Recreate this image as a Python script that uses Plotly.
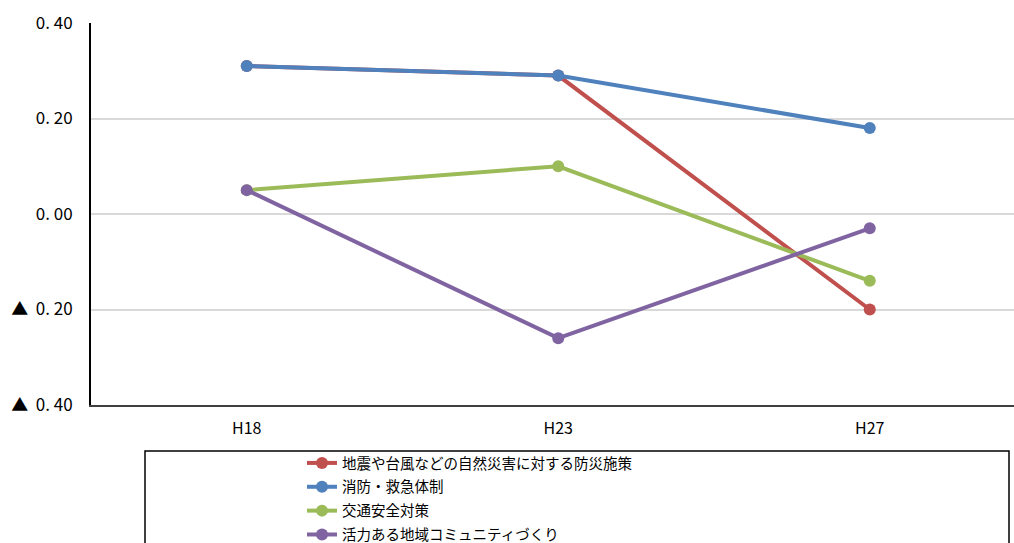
import plotly.graph_objects as go

categories = ["H18", "H23", "H27"]
series_names = [
    "地震や台風などの自然災害に対する防災施策",
    "消防・救急体制",
    "交通安全対策",
    "活力ある地域コミュニティづくり",
]
disaster = [0.31, 0.29, -0.20]
fire_emergency = [0.31, 0.29, 0.18]
traffic_safety = [0.05, 0.10, -0.14]
community = [0.05, -0.26, -0.03]
colors = ["#C0504D", "#4F81BD", "#9BBB59", "#8064A2"]
tick_vals = [0.4, 0.2, 0.0, -0.2, -0.4]
tick_text = ["0. 40", "0. 20", "0. 00", "▲  0. 20", "▲  0. 40"]

W, H = 1014, 543
L, R, T, B = 91, 0, 23, 138
pw, ph = W - L - R, H - T - B

def px_x(x):
    return (x - L) / pw

def px_y(y):
    return (H - B - y) / ph

fig = go.Figure()
for name, vals, c in zip(series_names, [disaster, fire_emergency, traffic_safety, community], colors):
    fig.add_trace(go.Scatter(
        x=list(range(len(categories))), y=vals, name=name, mode="lines+markers",
        line=dict(color=c, width=4), marker=dict(color=c, size=12),
        legendgroup=name,
    ))

font_jp = "Noto Sans CJK JP"
fig.update_layout(
    width=W, height=H,
    margin=dict(l=L, r=R, t=T, b=B, autoexpand=False),
    paper_bgcolor="white", plot_bgcolor="white",
    font=dict(family=font_jp, color="black", size=15),
    xaxis=dict(
        tickmode="array", tickvals=list(range(len(categories))), ticktext=categories,
        range=[-0.5, -0.5 + pw / 311.5], showgrid=False, zeroline=False,
        showline=True, linecolor="#404040", linewidth=2, ticks="",
        tickfont=dict(family=font_jp, size=16), ticklabelstandoff=8,
    ),
    yaxis=dict(
        tickmode="array", tickvals=tick_vals, ticktext=tick_text,
        range=[-0.4, 0.4], showgrid=True, gridcolor="#D9D9D9", gridwidth=1.5,
        zeroline=False, showline=True, linecolor="black", linewidth=2, ticks="",
        tickfont=dict(family=font_jp, size=17), ticklabelstandoff=13,
    ),
    showlegend=True,
    legend=dict(
        x=px_x(302), y=px_y(447), xanchor="left", yanchor="top",
        bgcolor="rgba(0,0,0,0)", borderwidth=0,
        font=dict(family=font_jp, size=14.5, color="black"),
        traceorder="grouped", tracegroupgap=2,
    ),
    shapes=[dict(
        type="rect", xref="paper", yref="paper",
        x0=px_x(145), x1=px_x(1009), y0=px_y(451), y1=px_y(560),
        line=dict(color="black", width=1.5), fillcolor="rgba(0,0,0,0)", layer="below",
    )],
)

fig.write_html(
    "out.html",
    config={"displayModeBar": False},
    post_script="document.body.style.margin='0';document.body.style.overflow='hidden';",
)
